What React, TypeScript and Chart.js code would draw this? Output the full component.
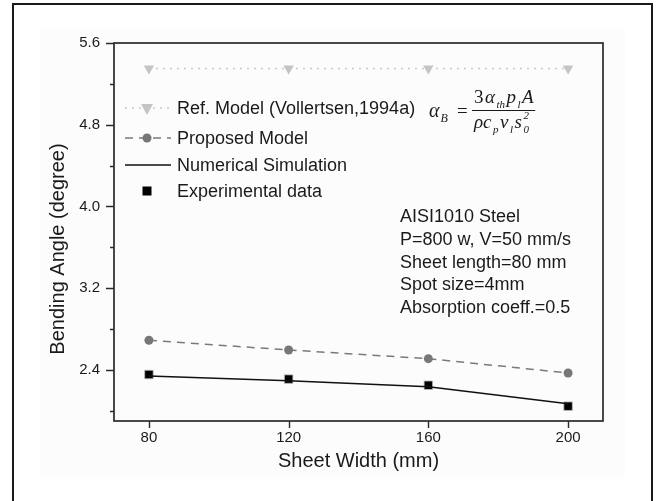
import React, { useEffect, useRef } from "react";
import { Chart, registerables } from "chart.js";

Chart.register(...registerables);

const sheetWidths = [80, 120, 160, 200];
const refModel = [5.35, 5.35, 5.35, 5.35];
const proposedModel = [2.69, 2.595, 2.51, 2.37];
const numericalSim = [2.34, 2.295, 2.235, 2.07];
const experimental = [2.355, 2.31, 2.25, 2.045];
const xTicks = [80, 120, 160, 200];
const yTicks = [2.4, 3.2, 4.0, 4.8, 5.6];
const yMinorTicks = [2.0, 2.8, 3.6, 4.4, 5.2];
const annotationLines = [
  "AISI1010 Steel",
  "P=800 w, V=50 mm/s",
  "Sheet length=80 mm",
  "Spot size=4mm",
  "Absorption coeff.=0.5",
];
const legendLabels = [
  "Ref. Model (Vollertsen,1994a)",
  "Proposed Model",
  "Numerical Simulation",
  "Experimental data",
];

const SANS = '"Liberation Sans", Arial, sans-serif';
const SERIF = '"Liberation Serif", "Times New Roman", serif';

const pts = (ys: number[]) => sheetWidths.map((x, i) => ({ x, y: ys[i] }));

type Seg = { t: string; k: "n" | "sub" | "sup" | "up" };

function drawSegs(ctx: CanvasRenderingContext2D, segs: Seg[], x: number, y: number, size: number, gap: number) {
  let cx = x;
  for (const s of segs) {
    if (s.k === "n") {
      ctx.font = `italic ${size}px ${SERIF}`;
      ctx.fillText(s.t, cx, y);
      cx += ctx.measureText(s.t).width + gap;
    } else if (s.k === "up") {
      ctx.font = `${size}px ${SERIF}`;
      ctx.fillText(s.t, cx, y);
      cx += ctx.measureText(s.t).width + gap;
    } else if (s.k === "sub") {
      ctx.font = `italic ${Math.round(size * 0.6)}px ${SERIF}`;
      ctx.fillText(s.t, cx, y + size * 0.25);
      cx += ctx.measureText(s.t).width + gap;
    } else {
      ctx.font = `italic ${Math.round(size * 0.6)}px ${SERIF}`;
      ctx.fillText(s.t, cx - ctx.measureText(s.t).width - gap, y - size * 0.45);
    }
  }
  return cx;
}

const decorPlugin = {
  id: "decor",
  beforeDraw(chart: any) {
    const ctx = chart.ctx as CanvasRenderingContext2D;
    ctx.save();
    ctx.fillStyle = "#ffffff";
    ctx.fillRect(0, 0, chart.width, chart.height);
    ctx.fillStyle = "#fcfcfc";
    ctx.fillRect(40, 28, 585, 449);
    ctx.strokeStyle = "#1a1a1a";
    ctx.lineWidth = 2;
    ctx.beginPath();
    ctx.moveTo(13, 520);
    ctx.lineTo(13, 4);
    ctx.lineTo(652, 4);
    ctx.lineTo(652, 520);
    ctx.stroke();
    ctx.restore();
  },
  afterDraw(chart: any) {
    const ctx = chart.ctx as CanvasRenderingContext2D;
    const a = chart.chartArea;
    const xs = chart.scales.x;
    const ys = chart.scales.y;
    ctx.save();
    // frame
    ctx.strokeStyle = "#2a2a2a";
    ctx.lineWidth = 1.7;
    ctx.strokeRect(a.left, a.top, a.right - a.left, a.bottom - a.top);
    // ticks
    ctx.lineWidth = 1.4;
    ctx.beginPath();
    for (const v of yTicks) {
      const py = Math.round(ys.getPixelForValue(v)) + 0.5;
      ctx.moveTo(a.left - 8, py);
      ctx.lineTo(a.left, py);
    }
    for (const v of yMinorTicks) {
      const py = Math.round(ys.getPixelForValue(v)) + 0.5;
      ctx.moveTo(a.left - 4, py);
      ctx.lineTo(a.left, py);
    }
    for (const v of xTicks) {
      const px = Math.round(xs.getPixelForValue(v)) + 0.5;
      ctx.moveTo(px, a.bottom);
      ctx.lineTo(px, a.bottom + 7);
    }
    ctx.stroke();

    // axis titles
    ctx.fillStyle = "#1a1a1a";
    ctx.font = `20px ${SANS}`;
    ctx.textAlign = "center";
    ctx.textBaseline = "middle";
    ctx.fillText("Sheet Width (mm)", (a.left + a.right) / 2, 461);
    ctx.save();
    ctx.translate(58, 249);
    ctx.rotate(-Math.PI / 2);
    ctx.fillText("Bending Angle (degree)", 0, 0);
    ctx.restore();

    // legend
    ctx.textAlign = "left";
    ctx.font = `18px ${SANS}`;
    const rows = [108, 138, 165, 191];
    const lx0 = 125;
    const lx1 = 171;
    const mx = 147;
    // ref
    ctx.strokeStyle = "#c8c8c8";
    ctx.lineWidth = 1.5;
    ctx.setLineDash([2, 5]);
    ctx.beginPath();
    ctx.moveTo(lx0, rows[0]);
    ctx.lineTo(lx1, rows[0]);
    ctx.stroke();
    ctx.setLineDash([]);
    ctx.fillStyle = "#c4c4c4";
    ctx.beginPath();
    ctx.moveTo(mx - 6, rows[0] - 4);
    ctx.lineTo(mx + 6, rows[0] - 4);
    ctx.lineTo(mx, rows[0] + 7);
    ctx.closePath();
    ctx.fill();
    // proposed
    ctx.strokeStyle = "#7a7a7a";
    ctx.setLineDash([8, 6]);
    ctx.beginPath();
    ctx.moveTo(lx0, rows[1]);
    ctx.lineTo(lx1, rows[1]);
    ctx.stroke();
    ctx.setLineDash([]);
    ctx.fillStyle = "#777777";
    ctx.beginPath();
    ctx.arc(mx, rows[1], 4.5, 0, Math.PI * 2);
    ctx.fill();
    // numerical
    ctx.strokeStyle = "#111111";
    ctx.lineWidth = 1.5;
    ctx.beginPath();
    ctx.moveTo(lx0, rows[2]);
    ctx.lineTo(lx1, rows[2]);
    ctx.stroke();
    // experimental
    ctx.fillStyle = "#000000";
    ctx.fillRect(mx - 4.5, rows[3] - 4.5, 9, 9);

    ctx.fillStyle = "#1a1a1a";
    ctx.font = `18px ${SANS}`;
    rows.forEach((ry, i) => ctx.fillText(legendLabels[i], 177, ry + 1));

    // formula
    ctx.fillStyle = "#1a1a1a";
    ctx.textBaseline = "alphabetic";
    drawSegs(ctx, [{ t: "α", k: "n" }, { t: "B", k: "sub" }], 429, 117, 20, 1);
    ctx.font = `19px ${SERIF}`;
    ctx.fillText("=", 457, 117);
    const numEnd = drawSegs(
      ctx,
      [
        { t: "3", k: "up" },
        { t: "α", k: "n" },
        { t: "th", k: "sub" },
        { t: "p", k: "n" },
        { t: "l", k: "sub" },
        { t: "A", k: "n" },
      ],
      474,
      103,
      19,
      1.5
    );
    drawSegs(
      ctx,
      [
        { t: "ρc", k: "n" },
        { t: "p", k: "sub" },
        { t: "v", k: "n" },
        { t: "l", k: "sub" },
        { t: "s", k: "n" },
        { t: "0", k: "sub" },
        { t: "2", k: "sup" },
      ],
      474,
      128,
      19,
      1.5
    );
    ctx.strokeStyle = "#1a1a1a";
    ctx.lineWidth = 1;
    ctx.beginPath();
    ctx.moveTo(472, 110.5);
    ctx.lineTo(Math.max(numEnd, 535), 110.5);
    ctx.stroke();

    // annotation
    ctx.textBaseline = "middle";
    ctx.font = `18px ${SANS}`;
    annotationLines.forEach((t, i) => ctx.fillText(t, 400, 217 + i * 22.8));
    ctx.restore();
  },
};

export default function App() {
  const ref = useRef<HTMLCanvasElement | null>(null);
  useEffect(() => {
    document.body.style.margin = "0";
    const canvas = ref.current!;
    const chart = new Chart(canvas, {
      type: "line",
      data: {
        datasets: [
          {
            label: legendLabels[0],
            data: pts(refModel),
            borderColor: "#c8c8c8",
            borderWidth: 1.5,
            borderDash: [2, 5],
            pointStyle: "triangle",
            rotation: 180,
            pointRadius: 6,
            pointBackgroundColor: "#c4c4c4",
            pointBorderColor: "#c4c4c4",
            pointBorderWidth: 0,
          },
          {
            label: legendLabels[1],
            data: pts(proposedModel),
            borderColor: "#7a7a7a",
            borderWidth: 1.5,
            borderDash: [8, 6],
            pointStyle: "circle",
            pointRadius: 4.5,
            pointBackgroundColor: "#777777",
            pointBorderColor: "#777777",
            pointBorderWidth: 0,
          },
          {
            label: legendLabels[2],
            data: pts(numericalSim),
            borderColor: "#111111",
            borderWidth: 1.5,
            pointRadius: 0,
          },
          {
            label: legendLabels[3],
            data: pts(experimental),
            showLine: false,
            pointStyle: "rect",
            pointRadius: 6,
            pointBackgroundColor: "#000000",
            pointBorderColor: "#bbbbbb",
            pointBorderWidth: 0.8,
          },
        ],
      },
      options: {
        animation: false,
        responsive: false,
        devicePixelRatio: 1,
        layout: { padding: { left: 0, top: 43, right: 55, bottom: 0 } },
        plugins: { legend: { display: false }, tooltip: { enabled: false } },
        scales: {
          x: {
            type: "linear",
            min: 70,
            max: 210,
            grid: { display: false, drawTicks: false },
            border: { display: false },
            afterFit: (s: any) => {
              s.height = 80;
            },
            afterBuildTicks: (s: any) => {
              s.ticks = xTicks.map((v) => ({ value: v }));
            },
            ticks: {
              padding: 8,
              color: "#1a1a1a",
              font: { family: SANS, size: 15 },
              callback: (v: any) => String(v),
            },
          },
          y: {
            type: "linear",
            min: 1.9,
            max: 5.6,
            grid: { display: false, drawTicks: false },
            border: { display: false },
            afterFit: (s: any) => {
              s.width = 114;
            },
            afterBuildTicks: (s: any) => {
              s.ticks = yTicks.map((v) => ({ value: v }));
            },
            ticks: {
              padding: 14,
              color: "#1a1a1a",
              font: { family: SANS, size: 15 },
              callback: (v: any) => Number(v).toFixed(1),
            },
          },
        },
      },
      plugins: [decorPlugin],
    } as any);
    return () => chart.destroy();
  }, []);
  return <canvas ref={ref} width={658} height={501} style={{ display: "block" }} />;
}
